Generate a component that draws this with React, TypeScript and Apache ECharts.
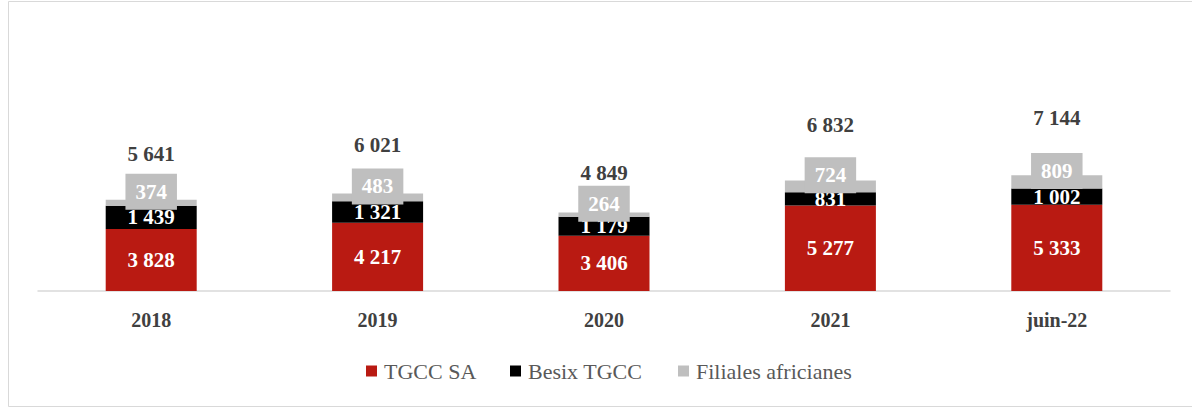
import React, { useEffect, useRef } from "react";
import * as echarts from "echarts";

const categories = ["2018", "2019", "2020", "2021", "juin-22"];
const seriesNames = ["TGCC SA", "Besix TGCC", "Filiales africianes"];
const seriesColors = ["#B91A12", "#000000", "#BFBFBF"];
const tgccSA = [3828, 4217, 3406, 5277, 5333];
const besix = [1439, 1321, 1179, 831, 1002];
const filiales = [374, 483, 264, 724, 809];
const totals = [5641, 6021, 4849, 6832, 7144];

const fmt = (v: number) => String(v).replace(/\B(?=(\d{3})+(?!\d))/g, " ");
const FONT = "Liberation Serif";
const REG_FONT = "serif";

// legend layout (drawn with graphic so the serif face is honoured)
const legendSymbolX = [366, 510, 678];
const legendY = 371;

export default function App() {
  const ref = useRef<HTMLDivElement>(null);
  useEffect(() => {
    document.body.style.margin = "0";
    const chart = echarts.init(ref.current!, undefined, { renderer: "svg" });
    const valLabel = {
      show: true,
      position: "inside",
      color: "#FFFFFF",
      fontFamily: FONT,
      fontWeight: "bold",
      fontSize: 21,
      formatter: (p: any) => fmt(p.value),
    };
    const legendGraphics: any[] = [];
    seriesNames.forEach((n, i) => {
      legendGraphics.push({
        type: "rect",
        shape: { x: legendSymbolX[i], y: legendY - 5.5, width: 11, height: 11 },
        style: { fill: seriesColors[i] },
        silent: true,
      });
      legendGraphics.push({
        type: "text",
        x: legendSymbolX[i] + 18,
        y: legendY,
        style: {
          text: n,
          fontFamily: REG_FONT,
          fontSize: 22,
          fill: "#595959",
          verticalAlign: "middle",
          align: "left",
        },
        silent: true,
      });
    });
    chart.setOption({
      animation: false,
      textStyle: { fontFamily: FONT },
      graphic: [
        {
          type: "rect",
          shape: { x: 8.5, y: 1.5, width: 1200, height: 405 },
          style: { fill: "none", stroke: "#D9D9D9", lineWidth: 1 },
          silent: true,
        },
        ...legendGraphics,
      ],
      grid: { left: 38, right: 22, top: 32, bottom: 117 },
      xAxis: {
        type: "category",
        data: categories,
        axisTick: { show: false },
        axisLine: { lineStyle: { color: "#D9D9D9", width: 1.5 } },
        axisLabel: {
          color: "#404040",
          fontFamily: FONT,
          fontWeight: "bold",
          fontSize: 20,
          margin: 19,
        },
      },
      yAxis: {
        type: "value",
        min: 0,
        max: 16000,
        show: false,
        splitLine: { show: false },
      },
      series: [
        {
          name: seriesNames[0],
          type: "bar",
          stack: "a",
          barWidth: 91,
          data: tgccSA,
          itemStyle: { color: seriesColors[0] },
          label: valLabel,
          silent: true,
        },
        {
          name: seriesNames[1],
          type: "bar",
          stack: "a",
          data: besix,
          itemStyle: { color: seriesColors[1] },
          label: valLabel,
          silent: true,
        },
        {
          name: seriesNames[2],
          type: "bar",
          stack: "a",
          data: filiales,
          itemStyle: { color: seriesColors[2] },
          label: {
            ...valLabel,
            offset: [0, -11],
            backgroundColor: "#BFBFBF",
            lineHeight: 22,
            padding: [7, 10, 7, 10],
          },
          silent: true,
        },
        {
          name: "Total",
          type: "bar",
          stack: "a",
          data: totals,
          itemStyle: { color: "transparent" },
          label: {
            show: true,
            position: "inside",
            color: "#404040",
            fontFamily: FONT,
            fontWeight: "bold",
            fontSize: 21,
            formatter: (p: any) => fmt(p.value),
          },
          silent: true,
        },
      ],
    });
    return () => chart.dispose();
  }, []);
  return <div ref={ref} style={{ width: 1192, height: 408 }} />;
}
